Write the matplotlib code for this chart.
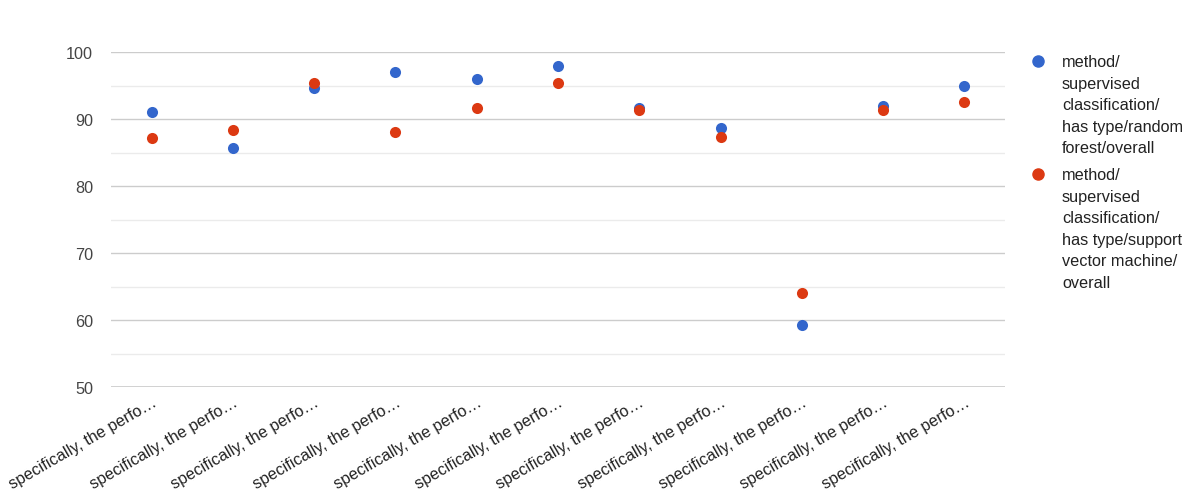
import matplotlib.pyplot as plt
from matplotlib.lines import Line2D

plt.rcParams['font.family'] = ['Liberation Sans', 'DejaVu Sans']

# categories (all truncated the same way in the source chart)
categories = ["specifically, the perfo\u2026"] * 11

# series values
random_forest = [91.1, 85.6, 94.6, 97.0, 95.9, 97.9, 91.6, 88.6, 59.3, 91.9, 95.0]
svm = [87.1, 88.3, 95.35, 88.1, 91.7, 95.35, 91.3, 87.3, 64.1, 91.3, 92.6]

series_names = [
    "method/\nsupervised\nclassification/\nhas type/random\nforest/overall",
    "method/\nsupervised\nclassification/\nhas type/support\nvector machine/\noverall",
]
colors = ["#3366cc", "#dc3912"]

fig = plt.figure(figsize=(12, 5.02), dpi=100)
ax = fig.add_axes([111 / 1200, 1 - 388 / 502, 894 / 1200, 335 / 502])

x = list(range(len(categories)))
ax.scatter(x, random_forest, s=64, color=colors[0], zorder=3, linewidths=0)
ax.scatter(x, svm, s=64, color=colors[1], zorder=3, linewidths=0)

ax.set_xlim(-0.5, len(categories) - 0.5)
ax.set_ylim(50, 100)

# gridlines
ax.set_yticks([50, 60, 70, 80, 90, 100])
ax.set_yticks([55, 65, 75, 85, 95], minor=True)
ax.grid(True, axis='y', which='major', color='#cccccc', linewidth=1, zorder=0)
ax.grid(True, axis='y', which='minor', color='#ebebeb', linewidth=1, zorder=0)
ax.axhline(50, color='#cccccc', linewidth=1.2, zorder=1)

for s in ax.spines.values():
    s.set_visible(False)

ax.tick_params(axis='y', which='both', length=0, pad=13, labelsize=11.7, labelcolor='#444444')
ax.tick_params(axis='x', length=0, pad=5, labelsize=11.7, labelcolor='#222222')

ax.set_xticks(x)
ax.set_xticklabels(categories, rotation=30, ha='right', va='top', rotation_mode='anchor')

# legend drawn by hand so the dot sits on the first line of each label
leg_tops = [55, 168]
for name, c, top in zip(series_names, colors, leg_tops):
    fig.add_artist(Line2D([1038 / 1200], [1 - (top + 7) / 502], marker='o',
                          markersize=8, color=c, linestyle='none',
                          transform=fig.transFigure))
    fig.text(1062 / 1200, 1 - top / 502, name, ha='left', va='top',
             fontsize=11.7, color='#222222', linespacing=1.55)

fig.savefig("out.png", dpi=100)
